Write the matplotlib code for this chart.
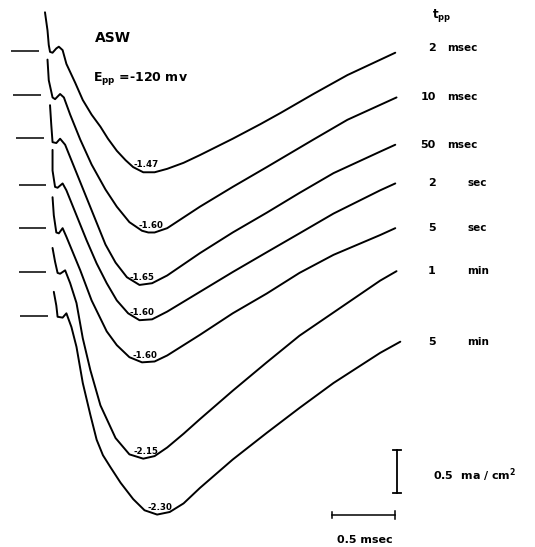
import matplotlib
matplotlib.use("Agg")
import matplotlib.pyplot as plt
import numpy as np

# time in msec (from the first notch), current in ma/cm2 (from each baseline)
t1 = [-0.04, -0.02, -0.01, 0.00, 0.02, 0.05, 0.07, 0.10, 0.13, 0.20, 0.26, 0.33, 0.40, 0.46,
      0.53, 0.60, 0.66, 0.74, 0.83, 0.93, 1.06, 1.19, 1.45, 1.67, 1.83, 2.09, 2.36, 2.74]
i1 = [0.45, 0.24, 0.07, -0.01, -0.02, 0.03, 0.05, 0.01, -0.15, -0.37, -0.57, -0.74, -0.88, -1.02,
      -1.16, -1.27, -1.35, -1.41, -1.41, -1.37, -1.30, -1.21, -1.02, -0.85, -0.72, -0.50, -0.28, -0.02]

t2 = [-0.02, -0.01, 0.02, 0.04, 0.08, 0.11, 0.16, 0.24, 0.33, 0.44, 0.53, 0.63, 0.73, 0.78, 0.83,
      0.93, 1.19, 1.45, 1.72, 2.09, 2.36, 2.75]
i2 = [0.41, 0.17, -0.03, -0.05, 0.01, -0.03, -0.23, -0.52, -0.81, -1.10, -1.30, -1.48, -1.58, -1.60, -1.60,
      -1.55, -1.30, -1.07, -0.84, -0.52, -0.29, -0.03]

t3 = [0.00, 0.01, 0.02, 0.05, 0.08, 0.12, 0.20, 0.28, 0.36, 0.44, 0.52, 0.61, 0.71, 0.81,
      0.93, 1.19, 1.45, 1.72, 1.98, 2.25, 2.62, 2.74]
i3 = [0.38, 0.15, -0.05, -0.06, -0.01, -0.08, -0.37, -0.66, -0.95, -1.24, -1.45, -1.62, -1.71, -1.69,
      -1.60, -1.34, -1.10, -0.87, -0.64, -0.41, -0.16, -0.08]

t4 = [0.02, 0.02, 0.04, 0.06, 0.10, 0.13, 0.21, 0.29, 0.37, 0.45, 0.53, 0.62, 0.71, 0.81,
      0.93, 1.19, 1.45, 1.72, 1.98, 2.25, 2.62, 2.74]
i4 = [0.41, 0.17, -0.02, -0.03, 0.02, -0.06, -0.35, -0.64, -0.91, -1.14, -1.34, -1.49, -1.57, -1.56,
      -1.47, -1.24, -1.01, -0.78, -0.56, -0.33, -0.06, 0.02]

t5 = [0.02, 0.03, 0.05, 0.07, 0.10, 0.13, 0.24, 0.33, 0.40, 0.45, 0.53, 0.63, 0.73, 0.83,
      0.93, 1.19, 1.45, 1.72, 1.98, 2.25, 2.62, 2.74]
i5 = [0.36, 0.15, -0.05, -0.06, 0.00, -0.10, -0.49, -0.84, -1.05, -1.20, -1.36, -1.50, -1.56, -1.55,
      -1.48, -1.24, -0.99, -0.76, -0.52, -0.31, -0.08, 0.00]

t6 = [0.02, 0.04, 0.06, 0.08, 0.12, 0.16, 0.21, 0.26, 0.32, 0.40, 0.52, 0.63, 0.74, 0.83,
      0.93, 1.06, 1.19, 1.45, 1.72, 1.98, 2.25, 2.62, 2.75]
i6 = [0.28, 0.12, -0.01, -0.02, 0.02, -0.13, -0.36, -0.77, -1.14, -1.55, -1.93, -2.12, -2.17, -2.14,
      -2.04, -1.88, -1.71, -1.38, -1.05, -0.74, -0.47, -0.10, 0.01]

t7 = [0.03, 0.05, 0.06, 0.10, 0.13, 0.17, 0.21, 0.26, 0.32, 0.37, 0.42, 0.48, 0.56, 0.66, 0.75,
      0.85, 0.95, 1.06, 1.19, 1.45, 1.72, 1.98, 2.25, 2.62, 2.78]
i7 = [0.28, 0.12, -0.01, -0.02, 0.03, -0.13, -0.36, -0.78, -1.15, -1.44, -1.62, -1.76, -1.94, -2.13, -2.26,
      -2.31, -2.28, -2.18, -2.00, -1.67, -1.36, -1.07, -0.78, -0.43, -0.30]

times = [t1, t2, t3, t4, t5, t6, t7]
currents = [i1, i2, i3, i4, i5, i6, i7]
peak_labels = ["-1.47", "-1.60", "-1.65", "-1.60", "-1.60", "-2.15", "-2.30"]
tpp_value = ["2", "10", "50", "2", "5", "1", "5"]
tpp_unit = ["msec", "msec", "msec", "sec", "sec", "min", "min"]

# vertical stacking of the traces (ma/cm2)
offsets = [0.0, -0.51, -1.01, -1.56, -2.06, -2.57, -3.08]

scale_time = 0.5     # msec
scale_current = 0.5  # ma/cm2

fig = plt.figure(figsize=(5.35, 5.47), dpi=100)
ax = fig.add_axes([0, 0, 1, 1])
ax.set_xlim(-0.397, 3.849)
ax.set_ylim(-5.767, 0.593)
ax.axis("off")

fs = dict(fontweight="bold", family="DejaVu Sans")

for k in range(7):
    t = np.array(times[k])
    y = np.array(currents[k]) + offsets[k]
    ax.plot(t, y, color="black", lw=1.4, solid_joinstyle="round", solid_capstyle="round")
    # baseline marker
    ax.hlines(offsets[k], t[0] - 0.27, t[0] - 0.05, color="black", lw=1.1)
    # peak value
    m = np.argmin(y)
    ax.annotate(peak_labels[k], (t[m], y[m]), xytext=(2, 2), textcoords="offset points",
                ha="center", va="bottom", fontsize=6.2, **fs)
    # t_pp label at the end of the trace
    ye = y[-1] + (0.06 if k == 0 else 0.0)
    ax.text(3.06, ye, tpp_value[k], ha="right", va="center", fontsize=8, **fs)
    ux = 3.15 if tpp_unit[k] == "msec" else 3.31
    ax.text(ux, ye, tpp_unit[k], ha="left", va="center", fontsize=7.5, **fs)

# scale bars
yb = -5.395
ax.plot([2.74 - scale_time, 2.74], [yb, yb], color="black", lw=1.1)
ax.plot([2.74 - scale_time] * 2, [yb - 0.03, yb + 0.03], color="black", lw=1.1)
ax.plot([2.74] * 2, [yb - 0.05, yb + 0.05], color="black", lw=1.1)
xv = 2.754
ax.plot([xv, xv], [-4.64, -4.64 - scale_current], color="black", lw=1.3)
ax.plot([xv - 0.032, xv + 0.032], [-4.64, -4.64], color="black", lw=1.3)
ax.plot([xv - 0.032, xv + 0.032], [-4.64 - scale_current] * 2, color="black", lw=1.3)

ax.text(0.178, 0.931, "ASW", transform=ax.transAxes, ha="left", va="center", fontsize=10, **fs)
ax.text(0.174, 0.856, r"E$_{\mathbf{pp}}$ =-120 mv", transform=ax.transAxes,
        ha="left", va="center", fontsize=9, **fs)
ax.text(0.807, 0.972, r"t$_{\mathbf{pp}}$", transform=ax.transAxes,
        ha="left", va="center", fontsize=8.5, **fs)
ax.text(0.809, 0.132, r"0.5  ma / cm$^{\mathbf{2}}$", transform=ax.transAxes,
        ha="left", va="center", fontsize=8, **fs)
ax.text(0.682, 0.013, "0.5 msec", transform=ax.transAxes,
        ha="center", va="center", fontsize=8, **fs)

fig.savefig("out.png", dpi=100, facecolor="white")
